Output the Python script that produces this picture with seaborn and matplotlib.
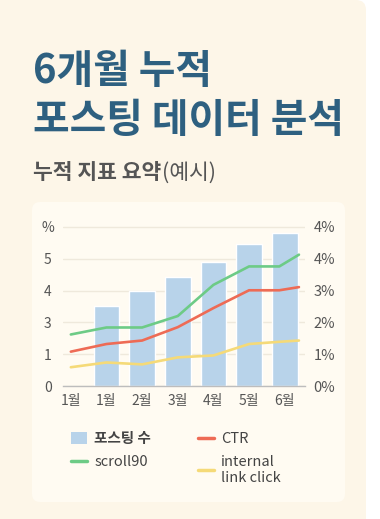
import matplotlib
matplotlib.use('Agg')
import matplotlib.pyplot as plt
from matplotlib.patches import FancyBboxPatch, Patch
from matplotlib.lines import Line2D
import seaborn as sns
import pandas as pd
import numpy as np

# -------------------------------
# DATA (values in left-axis grid units)
# -------------------------------
month_labels = ['1월', '1월', '2월', '3월', '4월', '5월', '6월']
left_ticks = ['0', '1', '3', '4', '5', '%']
right_ticks = ['0%', '1%', '2%', '3%', '4%', '4%']

bar_x = [1, 2, 3, 4, 5, 6]
posts = [2.52, 3.0, 3.43, 3.9, 4.46, 4.81]

line_x = [0, 1, 2, 3, 4, 5, 5.85, 6.4]
scroll90 = [1.62, 1.84, 1.84, 2.2, 3.18, 3.76, 3.76, 4.13]
ctr = [1.08, 1.32, 1.43, 1.85, 2.45, 3.01, 3.01, 3.11]
link_click = [0.59, 0.74, 0.68, 0.9, 0.96, 1.32, 1.39, 1.43]

bars = pd.DataFrame({'x': bar_x, 'posts': posts})
lines = pd.DataFrame({'x': line_x, 'scroll90': scroll90,
                      'CTR': ctr, 'link': link_click})

sns.set_style('white')
plt.rcParams['font.family'] = ['Noto Sans CJK KR', 'DejaVu Sans']

BG = '#FDF6E8'
CARD = '#FFFBF2'
BLUE = '#B8D3EA'
GREEN = '#6DCB86'
RED = '#EE6B55'
YELLOW = '#F5DA78'
TITLE = '#2E6080'
GRAY = '#555555'

fig = plt.figure(figsize=(3.8, 5.19), dpi=100)
fig.patch.set_facecolor('white')

# background panels
fig.patches.append(FancyBboxPatch((-0.2, -0.2), 3.86, 5.39,
                                  boxstyle='round,pad=0,rounding_size=0.1',
                                  transform=fig.dpi_scale_trans,
                                  facecolor=BG, edgecolor='none', zorder=-3))
fig.patches.append(FancyBboxPatch((0.32, 0.17), 3.13, 3.0,
                                  boxstyle='round,pad=0,rounding_size=0.08',
                                  transform=fig.dpi_scale_trans,
                                  facecolor=CARD, edgecolor='none', zorder=-2))

# titles
fig.text(33 / 380, 1 - 72 / 519, '6개월 누적', fontsize=28.7, fontweight='bold',
         color=TITLE, va='center', ha='left')
fig.text(33 / 380, 1 - 121 / 519, '포스팅 데이터 분석', fontsize=28.7, fontweight='bold',
         color=TITLE, va='center', ha='left')
t = fig.text(33 / 380, 1 - 173 / 519, '누적 지표 요약', fontsize=15.5, fontweight='bold',
             color=GRAY, va='center', ha='left')
fig.canvas.draw()
bb = t.get_window_extent()
fig.text(bb.x1 / 380 + 0.003, 1 - 173 / 519, '(예시)', fontsize=15.5,
         color=GRAY, va='center', ha='left')

# -------------------------------
# CHART
# -------------------------------
ax = fig.add_axes([63 / 380, 1 - 386 / 519, 242 / 380, 5.2 * 31.8 / 519])
ax.set_facecolor('none')

sns.barplot(data=bars, x='x', y='posts', native_scale=True, width=0.72,
            color=BLUE, saturation=1, ax=ax, zorder=2)
sns.lineplot(data=lines, x='x', y='scroll90', color=GREEN, linewidth=1.9, ax=ax, zorder=3)
sns.lineplot(data=lines, x='x', y='CTR', color=RED, linewidth=1.9, ax=ax, zorder=3)
sns.lineplot(data=lines, x='x', y='link', color=YELLOW, linewidth=1.9, ax=ax, zorder=3)

ax.set_xlim(-0.22, 6.57)
ax.set_ylim(0, 5.2)
ax.set_xticks(range(7))
ax.set_xticklabels(month_labels, fontsize=10, fontweight='medium', color=GRAY)
ax.set_yticks(range(6))
ax.set_yticklabels(left_ticks, fontsize=10, color=GRAY)
ax.set_xlabel('')
ax.set_ylabel('')
ax.tick_params(axis='both', length=0)
ax.tick_params(axis='x', pad=6)
for lab in ax.get_yticklabels():
    lab.set_horizontalalignment('center')
ax.yaxis.set_tick_params(pad=11)
ax.grid(axis='y', color='#EFE9DC', linewidth=1, zorder=0)
ax.set_axisbelow(True)
for s in ['left', 'right', 'top']:
    ax.spines[s].set_visible(False)
ax.spines['bottom'].set_color('#BDBDBD')
ax.spines['bottom'].set_linewidth(1)

ax2 = ax.twinx()
ax2.set_ylim(0, 5.2)
ax2.set_yticks(range(6))
ax2.set_yticklabels(right_ticks, fontsize=10.5, color=GRAY)
ax2.tick_params(axis='y', length=0, pad=6)
for s in ax2.spines.values():
    s.set_visible(False)

# legend
handles = [Patch(facecolor=BLUE, edgecolor='none'),
           Line2D([], [], color=GREEN, linewidth=2.5),
           Line2D([], [], color=RED, linewidth=2.5),
           Line2D([], [], color=YELLOW, linewidth=2.5)]
labels = ['포스팅 수', 'scroll90', 'CTR', 'internal\nlink click']
leg = fig.legend(handles, labels, ncol=2, loc='upper left',
                 bbox_to_anchor=(58 / 380, 1 - 417 / 519), frameon=False,
                 fontsize=10.5, handlelength=1.1, handleheight=0.8,
                 handletextpad=0.5, columnspacing=3.2, labelspacing=0.6,
                 labelcolor='#444444')
leg.get_texts()[0].set_fontweight('bold')
for i in (1, 2, 3):
    leg.get_texts()[i].set_fontweight('medium')

fig.savefig('out.png', dpi=100, facecolor=fig.get_facecolor())
